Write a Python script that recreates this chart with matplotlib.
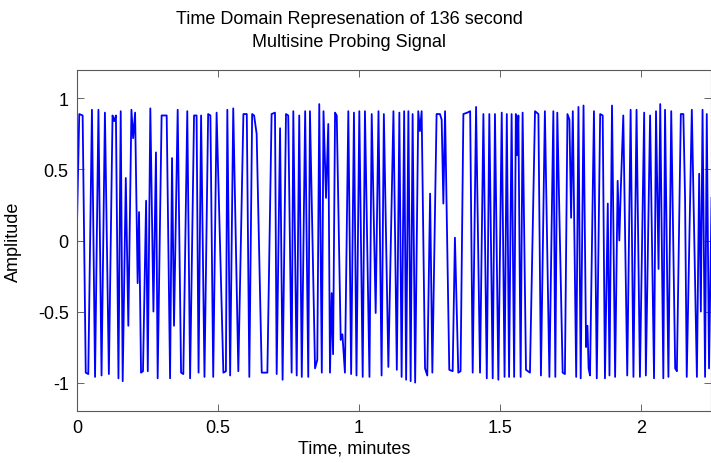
import matplotlib
matplotlib.use("Agg")
import matplotlib.pyplot as plt

plt.rcParams['font.family'] = ['Liberation Sans', 'DejaVu Sans']
plt.rcParams['axes.unicode_minus'] = False

# Turning points of the probing signal (time in minutes, amplitude)
time_min = [
    0.000, 0.008, 0.020, 0.031, 0.040, 0.053, 0.064, 0.076, 0.087, 0.099,
    0.113, 0.126, 0.132, 0.138, 0.147, 0.155, 0.162, 0.173, 0.182, 0.193,
    0.199, 0.206, 0.215, 0.220, 0.227, 0.234, 0.245, 0.251, 0.260, 0.271,
    0.280, 0.286, 0.300, 0.318, 0.330, 0.337, 0.344, 0.357, 0.369, 0.377,
    0.391, 0.401, 0.415, 0.424, 0.431, 0.440, 0.452, 0.465, 0.473, 0.483,
    0.495, 0.519, 0.528, 0.533, 0.543, 0.554,
    0.572, 0.590, 0.602, 0.611, 0.621, 0.628, 0.637, 0.655, 0.675, 0.690,
    0.702, 0.708, 0.720, 0.729, 0.741, 0.749, 0.761, 0.767, 0.779, 0.788,
    0.797, 0.809, 0.820, 0.826, 0.844, 0.852, 0.859, 0.868, 0.874, 0.883,
    0.891, 0.897, 0.903, 0.908, 0.915, 0.921, 0.935, 0.941, 0.950, 0.962,
    0.972, 0.982, 0.991, 1.001, 1.013, 1.021, 1.037, 1.045, 1.059, 1.069,
    1.080, 1.088, 1.104, 1.122,
    1.134, 1.143, 1.151, 1.160, 1.167, 1.175, 1.183, 1.190, 1.199, 1.210,
    1.216, 1.222, 1.234, 1.242, 1.252, 1.260, 1.275, 1.287, 1.293, 1.299,
    1.305, 1.320, 1.332, 1.340, 1.352, 1.360, 1.370, 1.384, 1.394, 1.403,
    1.415, 1.429, 1.441, 1.453, 1.462, 1.474, 1.482, 1.494, 1.506, 1.516,
    1.524, 1.532, 1.541, 1.550, 1.556, 1.560, 1.565, 1.573, 1.580, 1.592,
    1.606, 1.624, 1.636, 1.645, 1.659, 1.675, 1.689,
    1.696, 1.703, 1.722, 1.730, 1.739, 1.746, 1.752, 1.758, 1.770, 1.778,
    1.786, 1.796, 1.805, 1.810, 1.814, 1.819, 1.833, 1.843, 1.855, 1.864,
    1.872, 1.882, 1.888, 1.897, 1.908, 1.917, 1.923, 1.928, 1.937, 1.951,
    1.963, 1.973, 1.984, 1.996, 2.011, 2.017, 2.032, 2.046, 2.053, 2.062,
    2.068, 2.079, 2.085, 2.097, 2.107, 2.121, 2.127, 2.141, 2.150, 2.156,
    2.162, 2.180, 2.198, 2.206, 2.212, 2.218, 2.227, 2.233, 2.241, 2.250,
]
amplitude = [
    0.12, 0.89, 0.88, -0.93, -0.94, 0.92, -0.96, 0.92, -0.95, 0.90,
    -0.94, 0.88, 0.84, 0.88, -0.97, 0.91, -0.99, 0.44, -0.60, 0.92,
    0.72, 0.90, -0.30, 0.20, -0.93, -0.92, 0.28, -0.92, 0.93, -0.50,
    0.62, -0.97, 0.88, 0.88, -0.97, 0.58, -0.60, 0.92, -0.93, -0.94,
    0.91, -0.97, 0.88, 0.88, -0.93, 0.88, -0.96, 0.89, 0.88, -0.96,
    0.90, -0.93, -0.92, 0.92, -0.95, 0.93,
    -0.92, 0.89, 0.89, -0.96, 0.89, 0.88, 0.75, -0.93, -0.93, 0.89,
    0.90, -0.94, 0.79, -0.98, 0.89, 0.88, -0.93, 0.91, -0.95, 0.88,
    -0.96, 0.91, -0.96, 0.91, -0.90, -0.84, 0.96, -0.93, 0.91, 0.30,
    0.82, -0.93, -0.37, -0.80, 0.90, 0.88, -0.70, -0.66, -0.93, 0.91,
    -0.94, 0.90, -0.95, 0.91, -0.96, 0.91, -0.96, 0.89, -0.51, 0.91,
    -0.95, 0.89, -0.89, 0.91,
    -0.91, 0.90, -0.96, 0.91, -0.98, 0.91, -0.99, 0.89, -1.00, 0.91,
    0.77, 0.91, -0.90, -0.95, 0.33, -0.93, 0.89, 0.89, 0.85, 0.26,
    0.91, -0.91, -0.92, 0.02, -0.93, -0.92, 0.89, 0.90, 0.91, -0.93,
    0.94, -0.93, 0.89, -0.97, 0.89, -0.97, 0.89, -0.98, 0.90, -0.96,
    0.89, -0.96, 0.89, -0.96, 0.89, 0.60, 0.88, -0.96, 0.90, -0.91,
    -0.93, 0.91, 0.89, -0.95, 0.91, -0.96, 0.91,
    -0.96, 0.90, -0.93, -0.94, 0.89, 0.85, 0.16, 0.91, -0.96, 0.94,
    -0.97, 0.95, -0.75, -0.60, -0.90, -0.95, 0.91, -0.97, 0.89, 0.88,
    -0.97, 0.26, -0.95, 0.95, -0.96, 0.42, 0.00, 0.35, 0.88, -0.95,
    0.92, -0.96, 0.92, -0.96, 0.90, -0.95, 0.88, -0.97, 0.91, -0.20,
    0.96, -0.97, 0.92, -0.96, 0.91, -0.90, -0.92, 0.89, 0.89, 0.30,
    -0.96, 0.92, -0.96, 0.47, -0.50, 0.92, -0.96, 0.89, -0.90, 0.30,
]

x_ticks = [0, 0.5, 1, 1.5, 2]
x_tick_labels = ['0', '0.5', '1', '1.5', '2']
y_ticks = [-1, -0.5, 0, 0.5, 1]
y_tick_labels = ['-1', '-0.5', '0', '0.5', '1']

fig = plt.figure(figsize=(7.11, 4.64), dpi=100)
ax = fig.add_axes([77 / 711, 52 / 464, 634 / 711, 341 / 464])

ax.plot(time_min, amplitude, color=(0, 0, 1), linewidth=1.3,
        solid_joinstyle='round')

ax.set_xlim(0, 2.248)
ax.set_ylim(-1.2, 1.2)
ax.set_xticks(x_ticks)
ax.set_xticklabels(x_tick_labels)
ax.set_yticks(y_ticks)
ax.set_yticklabels(y_tick_labels)
ax.tick_params(direction='in', length=5, width=0.6, color='0.3',
               top=True, right=True, labelsize=13, pad=6, labelcolor='black')
for spine in ax.spines.values():
    spine.set_color('0.35')
    spine.set_linewidth(0.8)

ax.set_xlabel('Time, minutes', fontsize=13)
ax.xaxis.set_label_coords(0.437, -0.085)
ax.set_ylabel('Amplitude', fontsize=13)
ax.yaxis.set_label_coords(-0.087, 0.5)

fig.text(349 / 711, 1 - 31 / 464,
         'Time Domain Represenation of 136 second\nMultisine Probing Signal',
         ha='center', va='center', fontsize=13, linespacing=1.45)

fig.savefig('out.png', dpi=100, facecolor='white')
